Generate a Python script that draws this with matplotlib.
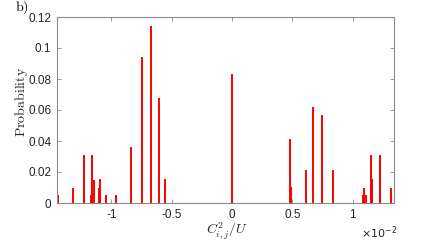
import matplotlib
matplotlib.use("Agg")
import matplotlib.pyplot as plt

# x positions in units of 1e-2 (C^2_{i,j}/U), heights = probability
positions = [-1.443, -1.321, -1.227, -1.165, -1.159, -1.142, -1.105, -1.094,
             -1.047, -0.959, -0.840, -0.749, -0.672, -0.608, -0.556,
             0.0,
             0.481, 0.492, 0.611, 0.669, 0.746, 0.838,
             1.089, 1.097, 1.111, 1.153, 1.159, 1.227, 1.318, 1.322]
probs = [0.005, 0.010, 0.031, 0.005, 0.031, 0.015, 0.010, 0.0155,
         0.005, 0.005, 0.036, 0.094, 0.114, 0.0675, 0.0155,
         0.083,
         0.0415, 0.0105, 0.021, 0.062, 0.057, 0.021,
         0.005, 0.010, 0.005, 0.031, 0.0157, 0.031, 0.005, 0.010]

xticks = [-1, -0.5, 0, 0.5, 1]
xticklabels = ["-1", "-0.5", "0", "0.5", "1"]
yticks = [0, 0.02, 0.04, 0.06, 0.08, 0.1, 0.12]
yticklabels = ["0", "0.02", "0.04", "0.06", "0.08", "0.1", "0.12"]

plt.rcParams['font.family'] = ['Liberation Sans', 'DejaVu Sans']

fig = plt.figure(figsize=(4.36, 2.40), dpi=100)
ax = fig.add_axes([57/436, 1-203/240, (394-57)/436, (203-17)/240])

ax.vlines(positions, 0, probs, colors='red', linewidth=1.4)

ax.set_xlim(-1.451, 1.343)
ax.set_ylim(0, 0.12)
ax.set_xticks(xticks)
ax.set_xticklabels(xticklabels)
ax.set_yticks(yticks)
ax.set_yticklabels(yticklabels)

gray = '#8a8a8a'
for s in ax.spines.values():
    s.set_color(gray)
    s.set_linewidth(0.8)
    s.set_zorder(3)
ax.tick_params(direction='in', length=3, width=0.6, color=gray,
               labelsize=8.5, labelcolor='#262626',
               top=True, right=True, pad=4)

fig.text(227/436, 1-231/240, r'$C^2_{i,j}/U$', math_fontfamily='cm',
         ha='center', va='center', fontsize=10, color='#262626')
fig.text(21/436, 1-102/240, r'$\mathrm{Probability}$', math_fontfamily='cm',
         ha='center', va='center', rotation=90, fontsize=10, color='#262626')
fig.text(22/436, 1-8/240, r'$\mathrm{b)}$', math_fontfamily='cm',
         ha='center', va='center', fontsize=10, color='black')
fig.text(379/436, 1-233/240, r'$\times10^{-2}$', math_fontfamily='dejavusans',
         ha='center', va='center', fontsize=8, color='#262626')

fig.savefig('out.png', dpi=100)
